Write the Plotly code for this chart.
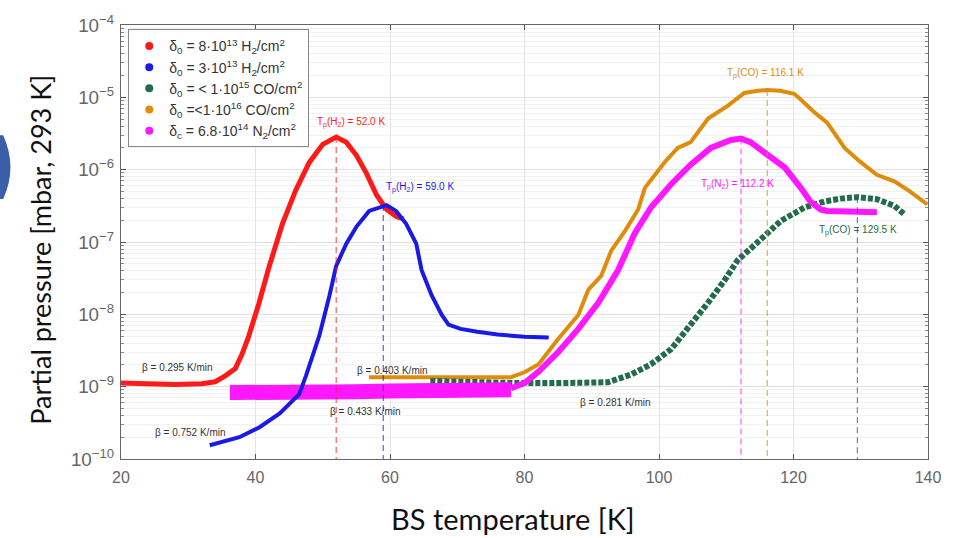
import plotly.graph_objects as go

# ---------------- data ----------------
# H2, delta0 = 8e13 (red)
red_T = [20, 24, 28, 32, 34, 35.5, 37, 38, 39, 40.5, 42, 44, 46, 48, 50, 52, 53.5, 55, 56.5, 58, 59.5, 61, 62]
red_p = [1.12e-9, 1.10e-9, 1.07e-9, 1.10e-9, 1.17e-9, 1.41e-9, 1.78e-9, 2.82e-9, 5.0e-9, 1.41e-8, 4.47e-8,
         1.78e-7, 5.25e-7, 1.26e-6, 2.24e-6, 2.82e-6, 2.4e-6, 1.58e-6, 8.9e-7, 4.47e-7, 2.82e-7, 2.24e-7, 2.09e-7]

# H2, delta0 = 3e13 (blue)
blue_T = [33.2, 35, 37.6, 40.6, 43.6, 45, 46.5, 47.5, 48.5, 49.5, 51, 52, 53.5, 55, 56.9, 58.8, 59.5, 60.9,
          62.4, 63.9, 64.7, 66.2, 67.7, 68.7, 70.5, 73, 76, 80, 83.6]
blue_p = [1.55e-10, 1.74e-10, 2.0e-10, 2.75e-10, 4.27e-10, 5.75e-10, 7.9e-10, 1.41e-9, 2.82e-9, 5.1e-9,
          1.82e-8, 4.68e-8, 9.5e-8, 1.62e-7, 2.69e-7, 3.16e-7, 3.24e-7, 2.69e-7, 1.78e-7, 9.5e-8, 4.07e-8,
          1.82e-8, 9.8e-9, 7.2e-9, 6.3e-9, 5.75e-9, 5.25e-9, 4.9e-9, 4.8e-9]

# CO, delta0 < 1e15 (green)
green_T = [66, 70, 75, 79, 85, 90, 92.4, 95.9, 98.8, 101.8, 104.7, 107.3, 109.8, 111.7, 114.7, 118.1,
           121.6, 124.6, 127, 129.5, 132.4, 135, 136.4]
green_p = [1.2e-9, 1.17e-9, 1.15e-9, 1.12e-9, 1.12e-9, 1.12e-9, 1.15e-9, 1.48e-9, 2.04e-9, 3.3e-9, 7.1e-9,
           1.45e-8, 3.0e-8, 5.6e-8, 1.0e-7, 1.95e-7, 3.0e-7, 3.63e-7, 3.98e-7, 4.17e-7, 3.9e-7, 3.16e-7, 2.45e-7]

# CO, delta0 < 1e16 (orange)
orange_T = [56.9, 60, 65, 70, 75, 78, 80, 82.1, 85, 88, 89.5, 91.4, 92.9, 95, 96.9, 97.9, 100.9, 102.8, 104.7,
            107.3, 110.2, 112.7, 114.7, 116.1, 118, 120.1, 121, 123.1, 125, 127.6, 129.9, 132.4, 135, 137.3, 139.9]
orange_p = [1.35e-9, 1.35e-9, 1.32e-9, 1.32e-9, 1.35e-9, 1.35e-9, 1.58e-9, 2.04e-9, 4.57e-9, 9.8e-9, 2.19e-8,
            3.39e-8, 7.6e-8, 1.45e-7, 2.82e-7, 5.6e-7, 1.29e-6, 2.0e-6, 2.4e-6, 5.1e-6, 7.6e-6, 1.15e-5, 1.23e-5,
            1.26e-5, 1.23e-5, 1.12e-5, 9.5e-6, 6.2e-6, 4.47e-6, 2.0e-6, 1.29e-6, 8.5e-7, 6.9e-7, 5.0e-7, 3.3e-7]

# N2, delta_c = 6.8e14 (magenta): noisy flat background, then the desorption peak
n2_flat_T = [36.2, 40, 45, 50, 55, 60, 65, 70, 75, 78]
n2_flat_p = [8.3e-10, 8.2e-10, 8.1e-10, 8.2e-10, 8.5e-10, 8.7e-10, 8.7e-10, 8.7e-10, 8.7e-10, 9.1e-10]
n2_peak_T = [78, 80, 82.1, 85, 88, 91, 93.9, 96.4, 98.8, 101.8, 104.7, 107.7, 110.7, 112.2, 113.6, 116.1,
             118.7, 121, 122.5, 124, 125, 128, 131, 132.4]
n2_peak_p = [9.5e-10, 1.12e-9, 1.62e-9, 3.0e-9, 6.3e-9, 1.45e-8, 4.07e-8, 1.32e-7, 3.0e-7, 6.3e-7, 1.17e-6,
             2.0e-6, 2.57e-6, 2.69e-6, 2.4e-6, 1.58e-6, 1.07e-6, 5.75e-7, 3.63e-7, 2.82e-7, 2.69e-7, 2.63e-7,
             2.63e-7, 2.57e-7]

# Peak temperatures and peak pressures (red, blue, green, orange, magenta)
peak_T = [52.0, 59.0, 129.5, 116.1, 112.2]
peak_p = [2.82e-6, 3.24e-7, 4.17e-7, 1.26e-5, 2.69e-6]
peak_labels = ["T<sub>p</sub>(H<sub>2</sub>) = 52.0 K", "T<sub>p</sub>(H<sub>2</sub>) = 59.0 K",
               "T<sub>p</sub>(CO) = 129.5 K", "T<sub>p</sub>(CO) = 116.1 K",
               "T<sub>p</sub>(N<sub>2</sub>) = 112.2 K"]

legend_names = ["δ<sub>0</sub> = 8·10<sup>13</sup> H<sub>2</sub>/cm<sup>2</sup>",
                "δ<sub>0</sub> = 3·10<sup>13</sup> H<sub>2</sub>/cm<sup>2</sup>",
                "δ<sub>0</sub> = < 1·10<sup>15</sup> CO/cm<sup>2</sup>",
                "δ<sub>0</sub> =<1·10<sup>16</sup> CO/cm<sup>2</sup>",
                "δ<sub>c</sub> = 6.8·10<sup>14</sup> N<sub>2</sub>/cm<sup>2</sup>"]

rate_labels = ["β = 0.295 K/min", "β = 0.752 K/min", "β = 0.403 K/min", "β = 0.433 K/min", "β = 0.281 K/min"]

x_ticks = [20, 40, 60, 80, 100, 120, 140]

# ---------------- styling ----------------
RED, BLUE, GREEN, ORANGE, MAGENTA = "#ff1a1a", "#1a1ae6", "#236b4a", "#e08c0b", "#ff17ff"
colors = [RED, BLUE, GREEN, ORANGE, MAGENTA]
Y_MIN = 1e-10

fig = go.Figure()

fig.add_trace(go.Scatter(x=orange_T, y=orange_p, mode="lines", line=dict(color=ORANGE, width=4),
                         showlegend=False, hoverinfo="skip"))
fig.add_trace(go.Scatter(x=green_T, y=green_p, mode="lines",
                         line=dict(color=GREEN, width=6, dash="5px,2px"), showlegend=False, hoverinfo="skip"))
fig.add_trace(go.Scatter(x=n2_flat_T, y=n2_flat_p, mode="lines", line=dict(color=MAGENTA, width=15),
                         showlegend=False, hoverinfo="skip"))
fig.add_trace(go.Scatter(x=n2_peak_T, y=n2_peak_p, mode="lines", line=dict(color=MAGENTA, width=6),
                         showlegend=False, hoverinfo="skip"))
fig.add_trace(go.Scatter(x=red_T, y=red_p, mode="lines", line=dict(color=RED, width=5),
                         showlegend=False, hoverinfo="skip"))
fig.add_trace(go.Scatter(x=blue_T, y=blue_p, mode="lines", line=dict(color=BLUE, width=4),
                         showlegend=False, hoverinfo="skip"))

for t, p, c in zip(peak_T, peak_p, colors):
    fig.add_trace(go.Scatter(x=[t, t], y=[p, Y_MIN], mode="lines",
                             line=dict(color=c, width=1.2, dash="6px,4px"), opacity=0.7,
                             showlegend=False, hoverinfo="skip"))

for name, c in zip(legend_names, colors):
    fig.add_trace(go.Scatter(x=[None], y=[None], mode="markers", name=name,
                             marker=dict(color=c, size=8, symbol="circle")))

peak_label_pos = [(54.2, -5.35), (64.5, -6.24), (129.6, -6.84), (115.9, -4.67), (111.7, -6.20)]
for txt, (xx, yy), c in zip(peak_labels, peak_label_pos, colors):
    fig.add_annotation(x=xx, y=yy, text=txt, showarrow=False, xanchor="center", yanchor="middle",
                       font=dict(family="Liberation Sans", size=10, color=c))

rate_pos = [(28.4, -8.73), (30.4, -9.63), (60.3, -8.78), (56.4, -9.35), (93.5, -9.22)]
for txt, (xx, yy) in zip(rate_labels, rate_pos):
    fig.add_annotation(x=xx, y=yy, text=txt, showarrow=False, xanchor="center", yanchor="middle",
                       font=dict(family="Liberation Sans", size=10, color="#333333"))

fig.add_annotation(xref="paper", yref="paper", x=0.486, y=-0.136, text="BS temperature [K]",
                   showarrow=False, xanchor="center", yanchor="middle",
                   font=dict(family="Lato", size=29, color="#111111"))
fig.add_annotation(xref="paper", yref="paper", x=-0.10, y=0.483, text="Partial pressure [mbar, 293 K]",
                   showarrow=False, xanchor="center", yanchor="middle", textangle=-90,
                   font=dict(family="Lato", size=27, color="#111111"))

fig.add_shape(type="path", xref="paper", yref="paper",
              path="M -0.16,0.746 L -0.146,0.746 Q -0.128,0.672 -0.146,0.599 L -0.16,0.599 Z",
              fillcolor="#3a5ea8", line=dict(width=0), layer="above")

fig.update_layout(
    width=953, height=538,
    margin=dict(l=121, r=22, t=18, b=79),
    paper_bgcolor="white", plot_bgcolor="white",
    font=dict(family="Liberation Sans", color="#555555"),
    legend=dict(x=0.009, y=0.99, xanchor="left", yanchor="top",
                bgcolor="white", bordercolor="#888888", borderwidth=1,
                font=dict(family="Liberation Sans", size=14, color="#333333"),
                itemwidth=30),
    xaxis=dict(range=[20, 140], tickvals=x_ticks, ticks="inside", ticklen=5, tickcolor="#555",
               showline=True, linecolor="#666666", linewidth=1, mirror="ticks",
               showgrid=True, gridcolor="#e4e4e4", zeroline=False, ticklabelstandoff=4,
               ticklabeloverflow="allow", tickfont=dict(size=16, color="#666666")),
    yaxis=dict(type="log", range=[-10, -4], dtick=1, exponentformat="power", showexponent="all",
               ticks="inside", ticklen=5, tickcolor="#555",
               showline=True, linecolor="#666666", linewidth=1, mirror="ticks",
               showgrid=True, gridcolor="#e0e0e0", zeroline=False, ticklabelstandoff=3,
               ticklabeloverflow="allow", tickfont=dict(size=15, color="#666666"),
               minor=dict(ticks="inside", ticklen=3, tickcolor="#888", showgrid=True,
                          gridcolor="#f2f2f2")),
)

# remove the default 8px body margin so the figure sits at the page's top-left corner
fig.write_html("out.html", config={"displayModeBar": False},
               post_script="document.body.style.margin='0';")
